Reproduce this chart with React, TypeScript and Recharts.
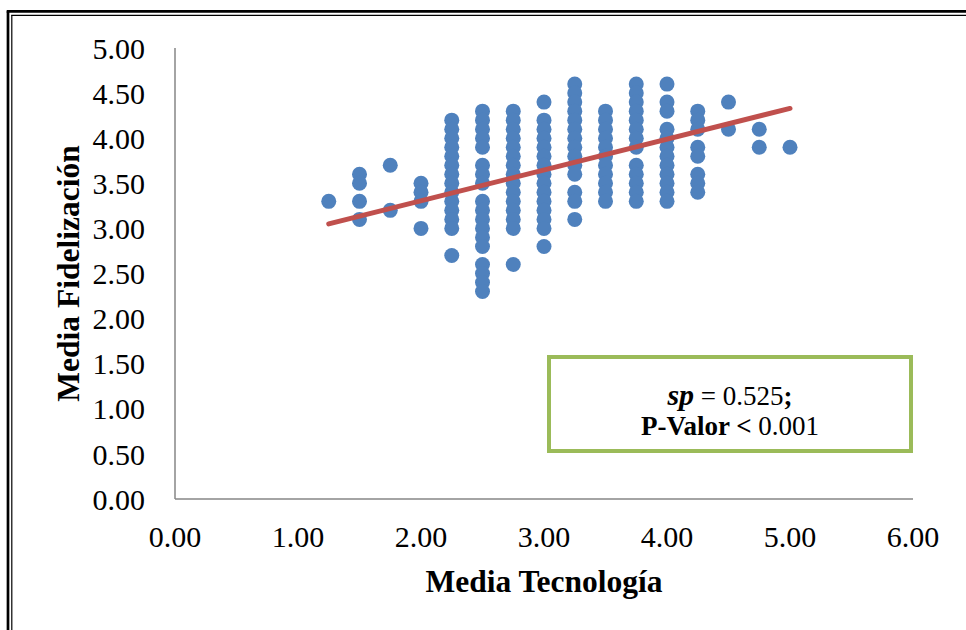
import React from 'react';
import { ScatterChart, Scatter, XAxis, YAxis, Label } from 'recharts';

// Media Tecnología (x) columns and the Media Fidelización values seen in each one
const tecnologia = [1.25, 1.5, 1.75, 2.0, 2.25, 2.5, 2.75, 3.0, 3.25, 3.5, 3.75, 4.0, 4.25, 4.5, 4.75, 5.0];
const fidelizacion = [
  [3.3],
  [3.6, 3.5, 3.3, 3.1],
  [3.7, 3.2],
  [3.5, 3.4, 3.3, 3.0],
  [4.2, 4.1, 4.0, 3.9, 3.8, 3.7, 3.6, 3.5, 3.4, 3.3, 3.2, 3.1, 3.0, 2.7],
  [4.3, 4.2, 4.1, 4.0, 3.9, 3.7, 3.6, 3.5, 3.3, 3.2, 3.1, 3.0, 2.9, 2.8, 2.6, 2.5, 2.4, 2.3],
  [4.3, 4.2, 4.1, 4.0, 3.9, 3.8, 3.7, 3.6, 3.5, 3.4, 3.3, 3.2, 3.1, 3.0, 2.6],
  [4.4, 4.2, 4.1, 4.0, 3.9, 3.8, 3.7, 3.6, 3.5, 3.4, 3.3, 3.2, 3.1, 3.0, 2.8],
  [4.6, 4.5, 4.4, 4.3, 4.2, 4.1, 4.0, 3.9, 3.8, 3.7, 3.6, 3.4, 3.3, 3.1],
  [4.3, 4.2, 4.1, 4.0, 3.9, 3.8, 3.7, 3.6, 3.5, 3.4, 3.3],
  [4.6, 4.5, 4.4, 4.3, 4.2, 4.1, 4.0, 3.9, 3.7, 3.6, 3.5, 3.4, 3.3],
  [4.6, 4.4, 4.3, 4.1, 4.0, 3.9, 3.8, 3.7, 3.6, 3.5, 3.4, 3.3],
  [4.3, 4.2, 4.1, 3.9, 3.8, 3.6, 3.5, 3.4],
  [4.4, 4.1],
  [4.1, 3.9],
  [3.9],
];

// fitted trend line end points
const tendenciaX = [1.25, 5.0];
const tendenciaY = [3.05, 4.33];

const xTicks = [0, 1, 2, 3, 4, 5, 6];
const yTicks = [0, 0.5, 1, 1.5, 2, 2.5, 3, 3.5, 4, 4.5, 5];

const puntos = tecnologia.flatMap((x, i) => fidelizacion[i].map(y => ({ x, y })));
const tendencia = tendenciaX.map((x, i) => ({ x, y: tendenciaY[i] }));

const SERIF = '"Liberation Serif", "Times New Roman", serif';
const tickStyle = { fill: '#000', fontSize: 30, fontFamily: SERIF };
const axisStyle = { stroke: '#868686', strokeWidth: 1.5 };
const titleStyle = { fontFamily: SERIF, fontSize: 31.5, fontWeight: 'bold', fill: '#000' };

const Punto = (props: any) => <circle cx={props.cx} cy={props.cy} r={7.5} fill="#4F81BD" />;

const TituloY = (props: any) => {
  const vb = props.viewBox || { y: 48, height: 451 };
  const cy = vb.y + vb.height / 2;
  return (
    <text x={79} y={cy} transform={`rotate(-90 79 ${cy})`} textAnchor="middle" style={titleStyle}>
      Media Fidelización
    </text>
  );
};

export default function App() {
  return (
    <div style={{ position: 'relative', width: 966, height: 630, background: '#fff' }}>
      <style>{'body{margin:0}'}</style>
      <ScatterChart width={966} height={630} margin={{ top: 48, right: 53, bottom: 0, left: 0 }}>
        <XAxis type="number" dataKey="x" domain={[0, 6]} ticks={xTicks} interval={0}
          tickFormatter={(v: number) => v.toFixed(2)} height={131} axisLine={axisStyle}
          tickLine={false} tickSize={0} tickMargin={27} tick={tickStyle}>
          <Label value="Media Tecnología" position="insideBottom" offset={38} style={titleStyle} />
        </XAxis>
        <YAxis type="number" dataKey="y" domain={[0, 5]} ticks={yTicks} interval={0}
          tickFormatter={(v: number) => v.toFixed(2)} width={175} axisLine={axisStyle}
          tickLine={false} tickSize={0} tickMargin={30} tick={tickStyle}>
          <Label content={TituloY} />
        </YAxis>
        <Scatter data={puntos} shape={Punto} isAnimationActive={false} />
        <Scatter data={tendencia} shape={() => <g />} isAnimationActive={false}
          line={{ stroke: '#C0504D', strokeWidth: 5, strokeLinecap: 'round' }} />
      </ScatterChart>
      <svg width={966} height={630} style={{ position: 'absolute', left: 0, top: 0, pointerEvents: 'none' }}>
        {/* double frame */}
        <line x1={8} y1={11.3} x2={8} y2={630} stroke="#000" strokeWidth={2.7} />
        <line x1={6.7} y1={11.3} x2={966} y2={11.3} stroke="#000" strokeWidth={2.7} />
        <line x1={11.8} y1={15.3} x2={11.8} y2={630} stroke="#000" strokeWidth={1.2} />
        <line x1={11.2} y1={15.3} x2={966} y2={15.3} stroke="#000" strokeWidth={1.2} />
        {/* annotation box */}
        <rect x={549} y={357} width={362} height={94} fill="#fff" stroke="#9BBB59" strokeWidth={4} />
        <text x={730} y={405} textAnchor="middle" style={{ fontFamily: SERIF, fontSize: 27, fill: '#000' }}>
          <tspan style={{ fontWeight: 'bold', fontStyle: 'italic', fontSize: 30 }}>sp</tspan>
          <tspan> = 0.525</tspan>
          <tspan style={{ fontWeight: 'bold' }}>;</tspan>
        </text>
        <text x={730} y={435} textAnchor="middle" style={{ fontFamily: SERIF, fontSize: 27, fill: '#000' }}>
          <tspan style={{ fontWeight: 'bold' }}>P-Valor &lt;</tspan>
          <tspan> 0.001</tspan>
        </text>
      </svg>
    </div>
  );
}
